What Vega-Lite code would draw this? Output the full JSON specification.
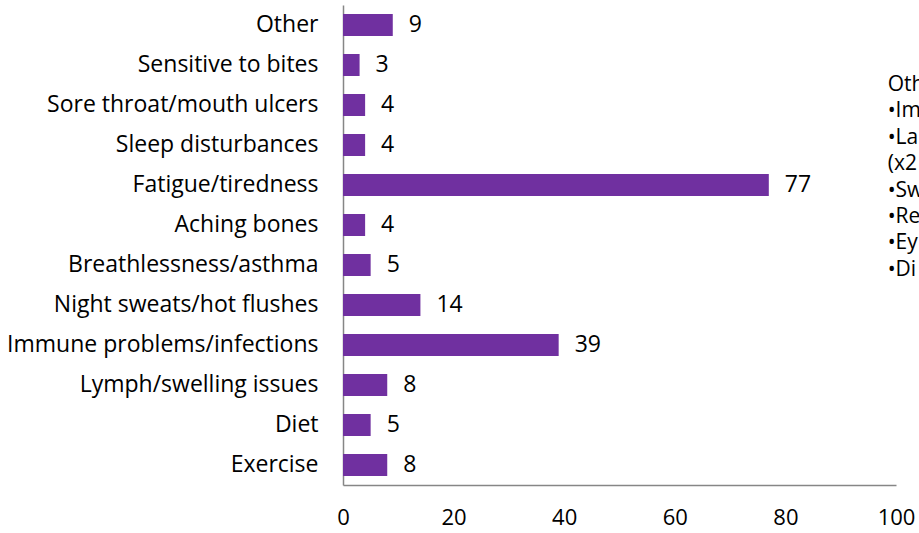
{
  "$schema": "https://vega.github.io/schema/vega-lite/v6.json",
  "autosize": "none",
  "width": 553,
  "height": 480,
  "padding": {"left": 343, "top": 5, "right": 23, "bottom": 48},
  "background": "white",
  "config": {"view": {"stroke": null}, "font": "Open Sans"},
  "datasets": {
    "bars": [
      {"issue": "Other", "count": 9},
      {"issue": "Sensitive to bites", "count": 3},
      {"issue": "Sore throat/mouth ulcers", "count": 4},
      {"issue": "Sleep disturbances", "count": 4},
      {"issue": "Fatigue/tiredness", "count": 77},
      {"issue": "Aching bones", "count": 4},
      {"issue": "Breathlessness/asthma", "count": 5},
      {"issue": "Night sweats/hot flushes", "count": 14},
      {"issue": "Immune problems/infections", "count": 39},
      {"issue": "Lymph/swelling issues", "count": 8},
      {"issue": "Diet", "count": 5},
      {"issue": "Exercise", "count": 8}
    ],
    "note": [
      {"line": 1, "text": "Other:", "pos": 98.5},
      {"line": 2, "text": "•Im", "pos": 98.5},
      {"line": 3, "text": "•La", "pos": 98.5},
      {"line": 4, "text": "(x2", "pos": 98.5},
      {"line": 5, "text": "•Sw", "pos": 98.5},
      {"line": 6, "text": "•Re", "pos": 98.5},
      {"line": 7, "text": "•Ey", "pos": 98.5},
      {"line": 8, "text": "•Di", "pos": 98.5}
    ]
  },
  "layer": [
    {
      "data": {"name": "bars"},
      "encoding": {
        "y": {
          "field": "issue", "type": "nominal", "sort": null,
          "scale": {"paddingInner": 0.45, "paddingOuter": 0.225},
          "axis": {
            "title": null, "ticks": false, "labelFontSize": 23, "labelColor": "#000000",
            "labelPadding": 25, "domainColor": "#868686", "domainWidth": 1.5, "labelLimit": 400
          }
        },
        "x": {
          "field": "count", "type": "quantitative",
          "scale": {"domain": [0, 100], "nice": false},
          "axis": {
            "title": null, "values": [0, 20, 40, 60, 80, 100], "ticks": false, "grid": false,
            "labelFontSize": 22, "labelColor": "#000000", "labelPadding": 22,
            "domainColor": "#868686", "domainWidth": 1.5, "labelFlush": false
          }
        }
      },
      "layer": [
        {"mark": {"type": "bar", "color": "#7030A0"}},
        {"mark": {"type": "text", "align": "left", "dx": 16, "fontSize": 23, "color": "#000000", "baseline": "middle"},
         "encoding": {"text": {"field": "count"}}}
      ]
    },
    {
      "data": {"name": "note"},
      "mark": {"type": "text", "align": "left", "baseline": "middle", "fontSize": 21, "color": "#000000"},
      "encoding": {
        "x": {"field": "pos", "type": "quantitative"},
        "y": {"field": "line", "type": "quantitative", "scale": {"domain": [-2.03, 16.15], "reverse": true, "nice": false, "zero": false}, "axis": null},
        "text": {"field": "text"}
      }
    }
  ],
  "resolve": {"scale": {"y": "independent"}}
}
